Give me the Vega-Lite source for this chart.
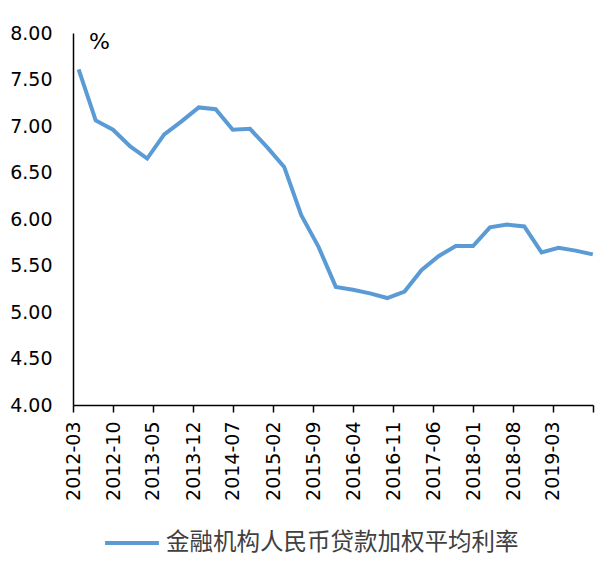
{
  "$schema": "https://vega.github.io/schema/vega-lite/v6.json",
  "autosize": {"type": "none"},
  "padding": {"left": 73, "top": 33, "right": 10, "bottom": 171},
  "width": 520,
  "height": 372,
  "background": "white",
  "data": {
    "values": [
      {"date": "2012-03-31", "rate": 7.61, "series": "金融机构人民币贷款加权平均利率"},
      {"date": "2012-06-30", "rate": 7.06, "series": "金融机构人民币贷款加权平均利率"},
      {"date": "2012-09-30", "rate": 6.96, "series": "金融机构人民币贷款加权平均利率"},
      {"date": "2012-12-31", "rate": 6.78, "series": "金融机构人民币贷款加权平均利率"},
      {"date": "2013-03-31", "rate": 6.65, "series": "金融机构人民币贷款加权平均利率"},
      {"date": "2013-06-30", "rate": 6.91, "series": "金融机构人民币贷款加权平均利率"},
      {"date": "2013-09-30", "rate": 7.05, "series": "金融机构人民币贷款加权平均利率"},
      {"date": "2013-12-31", "rate": 7.20, "series": "金融机构人民币贷款加权平均利率"},
      {"date": "2014-03-31", "rate": 7.18, "series": "金融机构人民币贷款加权平均利率"},
      {"date": "2014-06-30", "rate": 6.96, "series": "金融机构人民币贷款加权平均利率"},
      {"date": "2014-09-30", "rate": 6.97, "series": "金融机构人民币贷款加权平均利率"},
      {"date": "2014-12-31", "rate": 6.77, "series": "金融机构人民币贷款加权平均利率"},
      {"date": "2015-03-31", "rate": 6.56, "series": "金融机构人民币贷款加权平均利率"},
      {"date": "2015-06-30", "rate": 6.04, "series": "金融机构人民币贷款加权平均利率"},
      {"date": "2015-09-30", "rate": 5.70, "series": "金融机构人民币贷款加权平均利率"},
      {"date": "2015-12-31", "rate": 5.27, "series": "金融机构人民币贷款加权平均利率"},
      {"date": "2016-03-31", "rate": 5.24, "series": "金融机构人民币贷款加权平均利率"},
      {"date": "2016-06-30", "rate": 5.20, "series": "金融机构人民币贷款加权平均利率"},
      {"date": "2016-09-30", "rate": 5.15, "series": "金融机构人民币贷款加权平均利率"},
      {"date": "2016-12-31", "rate": 5.22, "series": "金融机构人民币贷款加权平均利率"},
      {"date": "2017-03-31", "rate": 5.45, "series": "金融机构人民币贷款加权平均利率"},
      {"date": "2017-06-30", "rate": 5.60, "series": "金融机构人民币贷款加权平均利率"},
      {"date": "2017-09-30", "rate": 5.71, "series": "金融机构人民币贷款加权平均利率"},
      {"date": "2017-12-31", "rate": 5.71, "series": "金融机构人民币贷款加权平均利率"},
      {"date": "2018-03-31", "rate": 5.91, "series": "金融机构人民币贷款加权平均利率"},
      {"date": "2018-06-30", "rate": 5.94, "series": "金融机构人民币贷款加权平均利率"},
      {"date": "2018-09-30", "rate": 5.92, "series": "金融机构人民币贷款加权平均利率"},
      {"date": "2018-12-31", "rate": 5.64, "series": "金融机构人民币贷款加权平均利率"},
      {"date": "2019-03-31", "rate": 5.69, "series": "金融机构人民币贷款加权平均利率"},
      {"date": "2019-06-30", "rate": 5.66, "series": "金融机构人民币贷款加权平均利率"},
      {"date": "2019-09-30", "rate": 5.62, "series": "金融机构人民币贷款加权平均利率"}
    ]
  },
  "mark": {"type": "line", "strokeWidth": 4, "strokeCap": "butt", "strokeJoin": "miter"},
  "encoding": {
    "x": {
      "field": "date",
      "type": "temporal",
      "title": null,
      "scale": {
        "type": "utc",
        "domain": [
          {"year": 2012, "month": 3, "date": 1, "utc": true},
          {"year": 2019, "month": 10, "date": 1, "utc": true}
        ]
      },
      "axis": {
        "values": [
          {"year": 2012, "month": 3, "date": 1, "utc": true},
          {"year": 2012, "month": 10, "date": 1, "utc": true},
          {"year": 2013, "month": 5, "date": 1, "utc": true},
          {"year": 2013, "month": 12, "date": 1, "utc": true},
          {"year": 2014, "month": 7, "date": 1, "utc": true},
          {"year": 2015, "month": 2, "date": 1, "utc": true},
          {"year": 2015, "month": 9, "date": 1, "utc": true},
          {"year": 2016, "month": 4, "date": 1, "utc": true},
          {"year": 2016, "month": 11, "date": 1, "utc": true},
          {"year": 2017, "month": 6, "date": 1, "utc": true},
          {"year": 2018, "month": 1, "date": 1, "utc": true},
          {"year": 2018, "month": 8, "date": 1, "utc": true},
          {"year": 2019, "month": 3, "date": 1, "utc": true},
          {"year": 2019, "month": 10, "date": 1, "utc": true}
        ],
        "format": "%Y-%m",
        "labelExpr": "datum.label == '2019-10' ? '' : datum.label",
        "labelAngle": -90,
        "labelAlign": "right",
        "labelBaseline": "middle",
        "labelPadding": 9,
        "labelFontSize": 19,
        "labelFlush": false,
        "labelOverlap": false,
        "tickSize": 7,
        "tickWidth": 1.5,
        "tickColor": "black",
        "domainColor": "black",
        "domainWidth": 1.5,
        "grid": false
      }
    },
    "y": {
      "field": "rate",
      "type": "quantitative",
      "scale": {"domain": [4, 8], "nice": false, "zero": false},
      "axis": {
        "values": [4, 4.5, 5, 5.5, 6, 6.5, 7, 7.5, 8],
        "format": ".2f",
        "ticks": false,
        "labelPadding": 21,
        "labelFontSize": 19,
        "labelFlush": false,
        "labelOverlap": false,
        "domainColor": "black",
        "domainWidth": 1.5,
        "grid": false,
        "title": "%",
        "titleAngle": 0,
        "titleX": 26,
        "titleY": 8,
        "titleAlign": "center",
        "titleBaseline": "middle",
        "titleFontSize": 22,
        "titleFontWeight": "normal"
      }
    },
    "color": {
      "field": "series",
      "type": "nominal",
      "scale": {"range": ["#5B9BD5"]},
      "legend": {
        "title": null,
        "orient": "none",
        "legendX": 30,
        "legendY": 481,
        "padding": 0,
        "symbolType": "stroke",
        "symbolSize": 2900,
        "symbolStrokeWidth": 4,
        "labelOffset": 5,
        "labelFontSize": 23.5,
        "labelFont": "Noto Sans CJK SC",
        "labelColor": "#404040",
        "labelLimit": 500
      }
    }
  },
  "config": {
    "view": {"stroke": null},
    "font": "DejaVu Sans",
    "axis": {"labelColor": "black", "titleColor": "black", "labelFont": "DejaVu Sans", "titleFont": "DejaVu Sans"}
  }
}
